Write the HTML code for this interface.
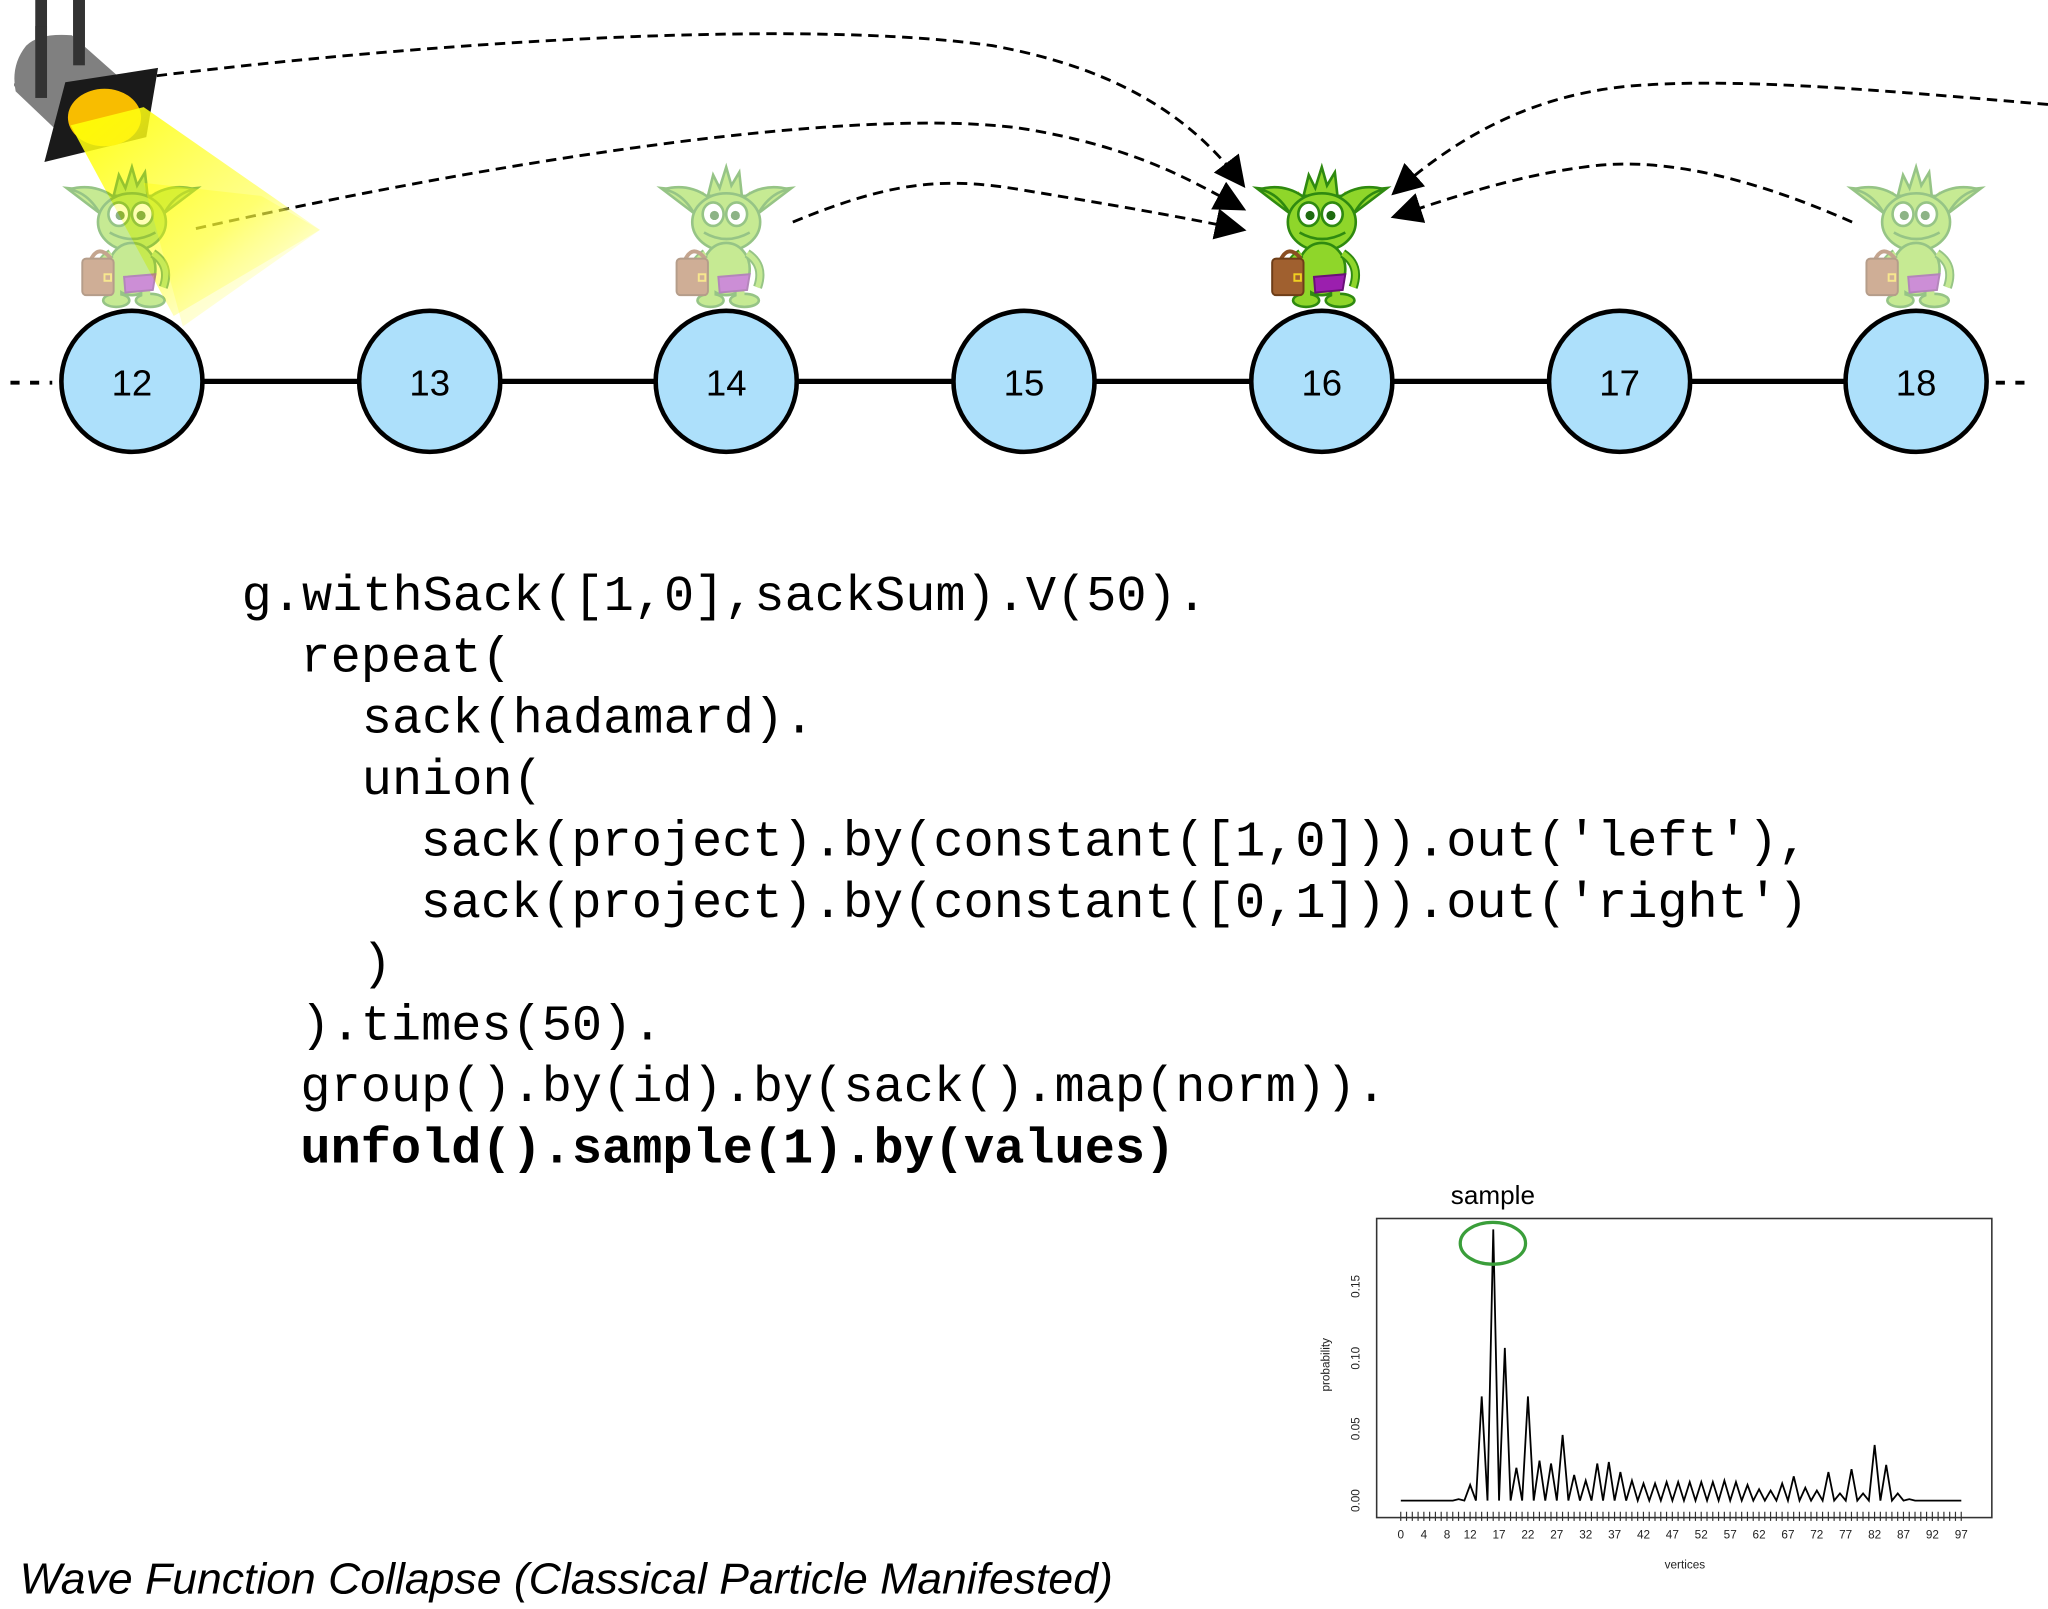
<!DOCTYPE html>
<html><head><meta charset="utf-8">
<style>
html,body{margin:0;padding:0;background:#fff;}
svg{display:block;}
</style></head>
<body>
<svg width="2048" height="1609" viewBox="0 0 1568 1232" preserveAspectRatio="none" xmlns="http://www.w3.org/2000/svg">
<defs>
<linearGradient id="beam" x1="0" y1="0" x2="1" y2="1">
<stop offset="0" stop-color="#ffff00" stop-opacity="0.95"/>
<stop offset="0.6" stop-color="#ffff40" stop-opacity="0.6"/>
<stop offset="1" stop-color="#ffffc0" stop-opacity="0"/>
</linearGradient>
<marker id="ah" viewBox="0 0 10 10" refX="9" refY="5" markerWidth="24" markerHeight="24" markerUnits="userSpaceOnUse" orient="auto">
<path d="M0,0 L10,5 L0,10 z" fill="#000"/>
</marker>
<g id="gob">
<polygon points="-14,22 -10,6 -5,16 0,0 4,14 10,4 12,22" fill="#8fd62a" stroke="#2f8a10" stroke-width="2"/>
<polygon points="-18,18 -12,28 -18,28" fill="#f0e020"/>
<polygon points="18,18 12,28 18,28" fill="#f0e020"/>
<path d="M-25,35 L-50,16 L-30,18 Z" fill="#8fd62a" stroke="#2f8a10" stroke-width="2"/>
<path d="M25,35 L50,16 L30,18 Z" fill="#8fd62a" stroke="#2f8a10" stroke-width="2"/>
<path d="M-48,17 Q-30,20 -20,45 L20,45 Q30,20 48,17 Q30,12 15,22 L-15,22 Q-30,12 -48,17 Z" fill="#8fd62a" stroke="#2f8a10" stroke-width="2"/>
<ellipse cx="0" cy="42" rx="26" ry="22" fill="#8fd62a" stroke="#2f8a10" stroke-width="2"/>
<ellipse cx="-10" cy="36" rx="8" ry="9" fill="#fff" stroke="#2f8a10" stroke-width="2"/>
<ellipse cx="8" cy="36" rx="8" ry="9" fill="#fff" stroke="#2f8a10" stroke-width="2"/>
<circle cx="-9" cy="37" r="3.5" fill="#1e6a10"/>
<circle cx="7" cy="37" r="3.5" fill="#1e6a10"/>
<path d="M-17,50 Q0,60 18,50" fill="none" stroke="#2f8a10" stroke-width="2"/>
<ellipse cx="0" cy="78" rx="18" ry="20" fill="#8fd62a" stroke="#2f8a10" stroke-width="2"/>
<path d="M-16,66 Q-30,75 -22,92" fill="none" stroke="#2f8a10" stroke-width="7"/>
<path d="M-16,66 Q-30,75 -22,92" fill="none" stroke="#8fd62a" stroke-width="4"/>
<path d="M16,66 Q30,75 24,92" fill="none" stroke="#2f8a10" stroke-width="7"/>
<path d="M16,66 Q30,75 24,92" fill="none" stroke="#8fd62a" stroke-width="4"/>
<ellipse cx="-12" cy="102" rx="10" ry="5" fill="#8fd62a" stroke="#2f8a10" stroke-width="2"/>
<ellipse cx="14" cy="102" rx="11" ry="5" fill="#8fd62a" stroke="#2f8a10" stroke-width="2"/>
<rect x="-15" y="88" width="6" height="12" fill="#8fd62a"/>
<rect x="8" y="88" width="6" height="12" fill="#8fd62a"/>
<path d="M-6,84 L18,82 L16,94 L-5,96 Z" fill="#9b1fae" stroke="#6a1078" stroke-width="1.5"/>
<path d="M-32,72 Q-26,58 -16,70" fill="none" stroke="#8a4e22" stroke-width="3"/>
<rect x="-38" y="70" width="24" height="28" rx="3" fill="#a0602f" stroke="#6e3e18" stroke-width="1.5"/>
<rect x="-21" y="82" width="5" height="5" fill="none" stroke="#f0d020" stroke-width="1.5"/>
</g>
</defs>

<!-- dashed arcs -->
<g fill="none" stroke="#000" stroke-width="2.2" stroke-dasharray="8 5">
<path d="M120,58 C350,30 620,15 760,35 C870,55 920,100 952,142" marker-end="url(#ah)"/>
<path d="M150,175 C350,130 640,80 780,98 C870,112 915,140 952,160" marker-end="url(#ah)"/>
<path d="M607,170 C680,140 720,135 780,145 C840,155 900,165 952,176" marker-end="url(#ah)"/>
<path d="M1568,80 C1450,70 1340,60 1260,65 C1170,70 1110,110 1067,148" marker-end="url(#ah)"/>
<path d="M1418,170 C1350,140 1280,120 1220,127 C1160,134 1110,152 1067,166" marker-end="url(#ah)"/>
<path d="M11,65 L22,64"/>
</g>

<!-- spotlight -->
<rect x="27" y="0" width="9" height="70" fill="#333"/>
<rect x="56" y="0" width="9" height="60" fill="#333"/>
<path d="M20,35 Q30,25 55,27 L90,58 L52,108 L12,70 Q8,50 20,35 Z" fill="#808080"/>
<rect x="27" y="20" width="9" height="55" fill="#333"/>
<rect x="56" y="0" width="9" height="50" fill="#333"/>
<polygon points="50,63 121,52 112,105 34,124" fill="#1a1a1a"/>
<ellipse cx="80" cy="90" rx="28" ry="22" fill="#f8bd00"/>
<polygon points="54,96 110,82 245,176 133,242" fill="url(#beam)"/>

<!-- chain line -->
<line x1="100" y1="292" x2="1470" y2="292" stroke="#000" stroke-width="4"/>
<g fill="none" stroke="#000" stroke-width="3" stroke-dasharray="7 8">
<line x1="8" y1="293" x2="40" y2="293"/>
<line x1="1528" y1="293" x2="1555" y2="293"/>
</g>

<!-- goblins -->
<use href="#gob" x="101" y="128" opacity="0.5"/>
<use href="#gob" x="556" y="128" opacity="0.5"/>
<use href="#gob" x="1012" y="128"/>
<use href="#gob" x="1467" y="128" opacity="0.5"/>

<!-- nodes -->
<g fill="#ade0fb" stroke="#000" stroke-width="3.5">
<circle cx="101" cy="292" r="54"/>
<circle cx="329" cy="292" r="54"/>
<circle cx="556" cy="292" r="54"/>
<circle cx="784" cy="292" r="54"/>
<circle cx="1012" cy="292" r="54"/>
<circle cx="1240" cy="292" r="54"/>
<circle cx="1467" cy="292" r="54"/>
</g>
<g font-family="Liberation Sans, sans-serif" font-size="28" text-anchor="middle" fill="#000">
<text x="101" y="303">12</text><text x="329" y="303">13</text><text x="556" y="303">14</text>
<text x="784" y="303">15</text><text x="1012" y="303">16</text><text x="1240" y="303">17</text>
<text x="1467" y="303">18</text>
</g>
<polygon points="110,140 200,150 245,176 140,250" fill="url(#beam)" opacity="0.4"/>

<!-- code -->
<g font-family="Liberation Mono, monospace" font-size="38.5" fill="#000" xml:space="preserve">
<text x="185" y="467">g.withSack([1,0],sackSum).V(50).</text>
<text x="230" y="514">repeat(</text>
<text x="277" y="561">sack(hadamard).</text>
<text x="277" y="608">union(</text>
<text x="322" y="655">sack(project).by(constant([1,0])).out('left'),</text>
<text x="322" y="702">sack(project).by(constant([0,1])).out('right')</text>
<text x="277" y="749">)</text>
<text x="230" y="796">).times(50).</text>
<text x="230" y="843">group().by(id).by(sack().map(norm)).</text>
<text x="230" y="890" font-weight="bold">unfold().sample(1).by(values)</text>
</g>

<!-- chart -->
<text x="1143" y="922" font-family="Liberation Sans, sans-serif" font-size="20" text-anchor="middle">sample</text>
<rect x="1054" y="933" width="471" height="229" fill="none" stroke="#333" stroke-width="1.2"/>
<g transform="translate(1072.5,1149) scale(4.424,-1093)">
<polyline fill="none" stroke="#000" stroke-width="1.8" vector-effect="non-scaling-stroke" points="0,0 9,0 10,.001 11,0 12,.011 13,0 14,.073 15,0 16,.19 17,0 18,.107 19,0 20,.023 21,0 22,.073 23,0 24,.028 25,0 26,.026 27,0 28,.046 29,0 30,.018 31,0 32,.014 33,0 34,.026 35,0 36,.027 37,0 38,.02 39,0 40,.014 41,0 42,.012 43,0 44,.012 45,0 46,.013 47,0 48,.013 49,0 50,.013 51,0 52,.013 53,0 54,.013 55,0 56,.014 57,0 58,.013 59,0 60,.011 61,0 62,.008 63,0 64,.007 65,0 66,.012 67,0 68,.017 69,0 70,.009 71,0 72,.007 73,0 74,.02 75,0 76,.005 77,0 78,.022 79,0 80,.005 81,0 82,.039 83,0 84,.025 85,0 86,.005 87,0 88,.001 89,0 97,0"/>
</g>
<ellipse cx="1143" cy="952" rx="25" ry="16" fill="none" stroke="#3a9e3a" stroke-width="2.5"/>
<line x1="1072" y1="1161" x2="1503" y2="1161" stroke="#333" stroke-width="7" stroke-dasharray="0.9 3.524"/>
<g font-family="Liberation Sans, sans-serif" font-size="9" text-anchor="middle" fill="#222">
<text x="1072.5" y="1178">0</text><text x="1090.2" y="1178">4</text><text x="1107.9" y="1178">8</text>
<text x="1125.6" y="1178">12</text><text x="1147.7" y="1178">17</text><text x="1169.8" y="1178">22</text>
<text x="1191.9" y="1178">27</text><text x="1214.1" y="1178">32</text><text x="1236.2" y="1178">37</text>
<text x="1258.3" y="1178">42</text><text x="1280.4" y="1178">47</text><text x="1302.5" y="1178">52</text>
<text x="1324.7" y="1178">57</text><text x="1346.8" y="1178">62</text><text x="1368.9" y="1178">67</text>
<text x="1391.0" y="1178">72</text><text x="1413.1" y="1178">77</text><text x="1435.3" y="1178">82</text>
<text x="1457.4" y="1178">87</text><text x="1479.5" y="1178">92</text><text x="1501.6" y="1178">97</text>
<text x="1290" y="1201">vertices</text>
<text transform="translate(1041,1149) rotate(-90)">0.00</text>
<text transform="translate(1041,1094) rotate(-90)">0.05</text>
<text transform="translate(1041,1040) rotate(-90)">0.10</text>
<text transform="translate(1041,985) rotate(-90)">0.15</text>
<text transform="translate(1018,1045) rotate(-90)">probability</text>
</g>

<!-- caption -->
<text x="15" y="1220" font-family="Liberation Sans, sans-serif" font-style="italic" font-size="33" textLength="837" lengthAdjust="spacingAndGlyphs">Wave Function Collapse (Classical Particle Manifested)</text>
</svg>
</body></html>
